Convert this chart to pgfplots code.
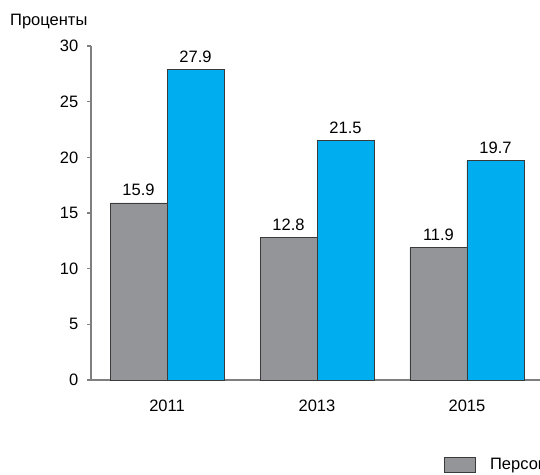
\documentclass[border=0pt]{standalone}
\usepackage{fontspec}
\setmainfont{Liberation Sans}
\usepackage{pgfplots}
\pgfplotsset{compat=1.18}
\definecolor{bargrey}{HTML}{939598}
\definecolor{barblue}{HTML}{00AEEF}
\definecolor{axisgrey}{HTML}{7F7F7F}
\definecolor{edgegrey}{HTML}{3A3A3A}
\begin{document}
\fontsize{16.5}{19}\selectfont
\begin{tikzpicture}
\useasboundingbox (0,0) rectangle (540pt,474pt);
\clip (0,0) rectangle (540pt,474pt);
\node[anchor=base west, inner sep=0pt] at (10pt,448pt) {Проценты};
\begin{axis}[
  at={(91pt,94pt)}, anchor=south west, scale only axis,
  width=452pt, height=334pt,
  ybar, bar width=57pt, ybar=0pt,
  xmin=-0.507, xmax=2.507, ymin=0, ymax=30,
  xtick={0,1,2}, xticklabels={2011,2013,2015},
  ytick={0,5,10,15,20,25,30},
  axis lines=left,
  axis line style={axisgrey, line width=1.2pt, -},
  x axis line style={shorten <=-4pt},
  tick align=outside, major tick length=4pt,
  y tick style={axisgrey, line width=1.2pt},
  x tick style={draw=none},
  /pgf/number format/assume math mode=true,
  tick label style={font=\fontsize{16.5}{19}\selectfont},
  yticklabel style={xshift=-3pt},
  xticklabel style={yshift=-10pt},
  nodes near coords,
  nodes near coords style={font=\fontsize{16.5}{19}\selectfont, text=black, yshift=1pt, /pgf/number format/.cd, fixed, fixed zerofill, precision=1, assume math mode=true},
  legend style={at={(0.781,-0.254)}, anchor=west, draw=none, fill=none, inner sep=0pt,
    font=\fontsize{16.5}{19}\selectfont,
    /tikz/every odd column/.append style={column sep=12pt},
    /tikz/every even column/.append style={column sep=20pt}},
  legend columns=2,
  legend image code/.code={\draw[#1] (0pt,-7.5pt) rectangle (31pt,7.5pt);},
  clip=false,
]
\addplot[fill=bargrey, draw=edgegrey, line width=0.9pt] coordinates {(0,15.9) (1,12.8) (2,11.9)};
\addplot[fill=barblue, draw=edgegrey, line width=0.9pt] coordinates {(0,27.9) (1,21.5) (2,19.7)};
\legend{Персональные кредиты, Потребительские кредиты}
\end{axis}
\end{tikzpicture}
\end{document}
